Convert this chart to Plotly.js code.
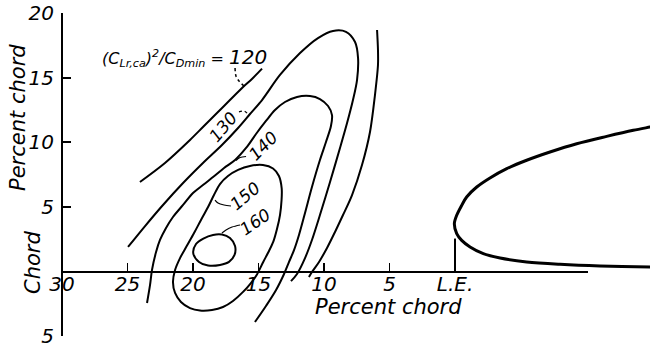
<!DOCTYPE html>
<html><head><meta charset="utf-8">
<script src="https://cdn.plot.ly/plotly-3.0.1.min.js"></script>
<style>html,body{margin:0;padding:0;background:#fff;} #chart{width:650px;height:349px;}</style>
</head><body><div id="chart"></div>
<script>
// x = percent chord ahead of the leading edge (negative = along the chord), y = percent chord
const xTickVals = [30, 25, 20, 15, 10, 5, 0];
const xTickText = ['30', '25', '20', '15', '10', '5', 'L.E.'];
const yTickVals = [-5, 5, 10, 15, 20];
const yTickText = ['5', '5', '10', '15', '20'];

// contour (C_L)^2/C_Dmin = 120 : left branch and right branch
const x120a = [24.05, 22.14, 20.23, 19.24, 18.17, 17.18, 16.18, 15.50, 14.73];
const y120a = [6.93, 8.40, 10.18, 11.18, 12.27, 13.27, 14.28, 14.90, 15.70];
const x120b = [5.95, 5.88, 5.88, 6.11, 6.49, 7.10, 7.86, 8.55, 9.16, 9.77, 10.38, 10.92, 11.15];
const y120b = [18.69, 17.14, 15.98, 13.66, 10.80, 8.24, 5.92, 4.37, 3.06, 1.82, 0.74, -0.04, -0.43];

// contour 130
const x130 = [24.96, 23.66, 22.29, 20.76, 19.24, 17.79, 16.56, 15.65, 14.73, 13.36, 11.83, 10.46, 9.31, 8.32, 7.63, 7.40, 7.48, 7.79, 8.24, 8.78, 9.54, 10.31, 10.92, 11.45, 12.06, 12.52];
const y130 = [1.90, 3.52, 5.15, 6.85, 8.40, 9.79, 11.11, 12.19, 13.27, 15.21, 16.91, 18.07, 18.62, 18.55, 17.76, 16.52, 14.82, 13.27, 11.49, 9.56, 6.93, 4.37, 2.44, 1.04, -0.19, -0.74];

// contour 140
const x140 = [23.51, 23.28, 23.13, 22.82, 22.52, 22.06, 21.53, 20.76, 20.00, 19.24, 18.47, 17.63, 16.79, 15.95, 15.19, 14.43, 13.74, 12.98, 12.06, 11.07, 10.31, 9.69, 9.39, 9.47, 9.85, 10.31, 10.92, 11.45, 11.91, 12.29, 12.67, 13.05, 13.66, 14.43, 15.27];
const y140 = [-2.44, -1.04, 0.12, 1.51, 2.44, 3.37, 4.22, 5.15, 6.08, 6.69, 7.31, 8.01, 8.63, 9.56, 10.64, 11.65, 12.50, 13.12, 13.51, 13.58, 13.35, 12.81, 12.11, 11.26, 10.02, 8.63, 6.54, 4.53, 2.83, 1.66, 0.74, -0.19, -1.43, -2.67, -3.91];

// contour 150 (closed)
const x150 = [14.66, 15.65, 16.56, 17.33, 17.94, 18.40, 18.85, 19.39, 19.92, 20.48, 20.99, 21.37, 21.53, 21.37, 20.92, 20.23, 19.47, 18.55, 17.71, 16.95, 16.16, 15.61, 15.14, 14.63, 14.24, 13.87, 13.59, 13.36, 13.24, 13.23, 13.44, 13.89, 14.66];
const y150 = [8.24, 8.17, 7.86, 7.39, 6.77, 5.92, 4.99, 3.99, 2.98, 1.97, 1.04, 0.12, -0.81, -1.66, -2.36, -2.83, -3.02, -2.98, -2.75, -2.28, -1.56, -0.93, -0.27, 0.76, 1.51, 2.31, 3.29, 4.37, 5.53, 6.44, 7.39, 7.97, 8.24];

// contour 160 (closed)
const x160 = [19.98, 19.77, 19.21, 18.47, 17.79, 17.18, 16.79, 16.83, 17.25, 17.94, 18.85, 19.54, 19.98];
const y160 = [1.41, 2.13, 2.55, 2.83, 2.86, 2.59, 1.97, 1.28, 0.74, 0.50, 0.46, 0.74, 1.41];

// airfoil nose: upper surface (tail to nose) then lower surface (nose to tail)
const xFoil = [-15.5, -14.89, -13.61, -11.58, -9.29, -7.25, -5.47, -3.95, -2.67, -1.66, -0.89, -0.51, -0.13, 0.05, -0.13, -0.51, -1.15, -2.16, -3.44, -5.47, -8.02, -11.07, -14.89, -15.5];
const yFoil = [11.30, 11.18, 10.93, 10.46, 9.89, 9.25, 8.61, 7.96, 7.24, 6.54, 5.77, 5.12, 4.35, 3.70, 2.93, 2.41, 1.90, 1.38, 1.04, 0.74, 0.56, 0.43, 0.35, 0.33];
const xLE = [0, 0];
const yLE = [0, 2.55];

// label leaders
const xLead120 = [16.79, 16.72, 16.49, 16.11];
const yLead120 = [15.75, 15.13, 14.74, 14.36];
const xLead130 = [16.49, 16.11, 15.80];
const yLead130 = [12.35, 12.42, 12.19];
const xLead140 = [15.95, 16.41, 16.72];
const yLead140 = [8.90, 8.82, 8.59];
const xLead150 = [17.10, 17.63, 18.09, 18.32];
const yLead150 = [5.07, 5.15, 5.30, 5.53];
const xLead160 = [16.41, 17.02, 17.48, 17.79];
const yLead160 = [3.60, 3.44, 3.21, 2.98];

// contour labels
const labelText = ['130', '140', '150', '160'];
const labelX = [17.71, 14.66, 16.03, 15.27];
const labelY = [11.18, 9.71, 5.84, 3.83];
const labelAngle = [-50, -45, -40, -35];

const FONT = 'DejaVu Sans, Verdana, sans-serif';

function ln(x, y, w, dash) {
  return {type: 'scatter', mode: 'lines', x: x, y: y, xaxis: 'x', yaxis: 'y',
    line: {color: '#000', width: w, shape: 'spline', smoothing: 0.9, dash: dash || 'solid'},
    hoverinfo: 'skip', showlegend: false};
}

const data = [
  {type: 'scatter', mode: 'lines', x: [null], y: [null], xaxis: 'x2', yaxis: 'y2', hoverinfo: 'skip', showlegend: false},
  ln(x120a, y120a, 2), ln(x120b, y120b, 2), ln(x130, y130, 2), ln(x140, y140, 2),
  ln(x150, y150, 2), ln(x160, y160, 2), ln(xFoil, yFoil, 3),
  {type: 'scatter', mode: 'lines', x: xLE, y: yLE, line: {color: '#000', width: 2}, hoverinfo: 'skip', showlegend: false},
  ln(xLead120, yLead120, 1.5, 'dot'), ln(xLead130, yLead130, 1.2, 'dot'),
  ln(xLead140, yLead140, 1.2), ln(xLead150, yLead150, 1.2), ln(xLead160, yLead160, 1.2)
];

const annotations = [];
for (let i = 0; i < labelText.length; i++) {
  annotations.push({x: labelX[i], y: labelY[i], xref: 'x', yref: 'y', text: labelText[i], showarrow: false,
    textangle: labelAngle[i], font: {family: FONT, size: 17, color: '#000', style: 'italic'}});
}
annotations.push({x: 27.1, y: 16.55, xref: 'x', yref: 'y', xanchor: 'left', showarrow: false,
  text: '(C<sub>Lr,ca</sub>)<sup>2</sup>/C<sub>Dmin</sub> = <span style="font-size:20px">120</span>',
  font: {family: FONT, size: 16, color: '#000', style: 'italic'}});
annotations.push({x: 5.11, y: -2.78, xref: 'x', yref: 'y', text: 'Percent chord', showarrow: false,
  font: {family: FONT, size: 21, color: '#000', style: 'italic'}});
annotations.push({x: 33.36, y: 11.96, xref: 'x', yref: 'y', text: 'Percent chord', showarrow: false, textangle: -90,
  font: {family: FONT, size: 21, color: '#000', style: 'italic'}});
annotations.push({x: 32.21, y: 0.66, xref: 'x', yref: 'y', text: 'Chord', showarrow: false, textangle: -90,
  font: {family: FONT, size: 21, color: '#000', style: 'italic'}});

const layout = {
  width: 650, height: 349, margin: {l: 0, r: 0, t: 0, b: 0},
  paper_bgcolor: '#fff', plot_bgcolor: 'rgba(0,0,0,0)', showlegend: false,
  xaxis: {range: [34.733, -14.885], visible: false, fixedrange: true},
  yaxis: {range: [-5.998, 21.014], visible: false, fixedrange: true},
  xaxis2: {domain: [0.09538, 0.90462], range: [30, -10.15], anchor: 'free', position: 0.22206,
    showline: true, linecolor: '#000', linewidth: 2, showgrid: false, zeroline: false,
    ticks: 'inside', ticklen: 8, tickwidth: 1.5, tickcolor: '#000',
    tickmode: 'array', tickvals: xTickVals, ticktext: xTickText, ticklabelstandoff: -6,
    tickfont: {family: FONT, size: 20, color: '#000', style: 'italic'}, fixedrange: true},
  yaxis2: {domain: [0.03696, 0.96246], range: [-5, 20], anchor: 'free', position: 0.09538,
    showline: true, linecolor: '#000', linewidth: 2, showgrid: false, zeroline: false,
    ticks: 'inside', ticklen: 8, tickwidth: 2, tickcolor: '#000',
    tickmode: 'array', tickvals: yTickVals, ticktext: yTickText, ticklabelstandoff: 3,
    tickfont: {family: FONT, size: 20, color: '#000', style: 'italic'}, fixedrange: true},
  annotations: annotations
};

Plotly.newPlot('chart', data, layout, {staticPlot: true, displayModeBar: false});
</script>
</body></html>
